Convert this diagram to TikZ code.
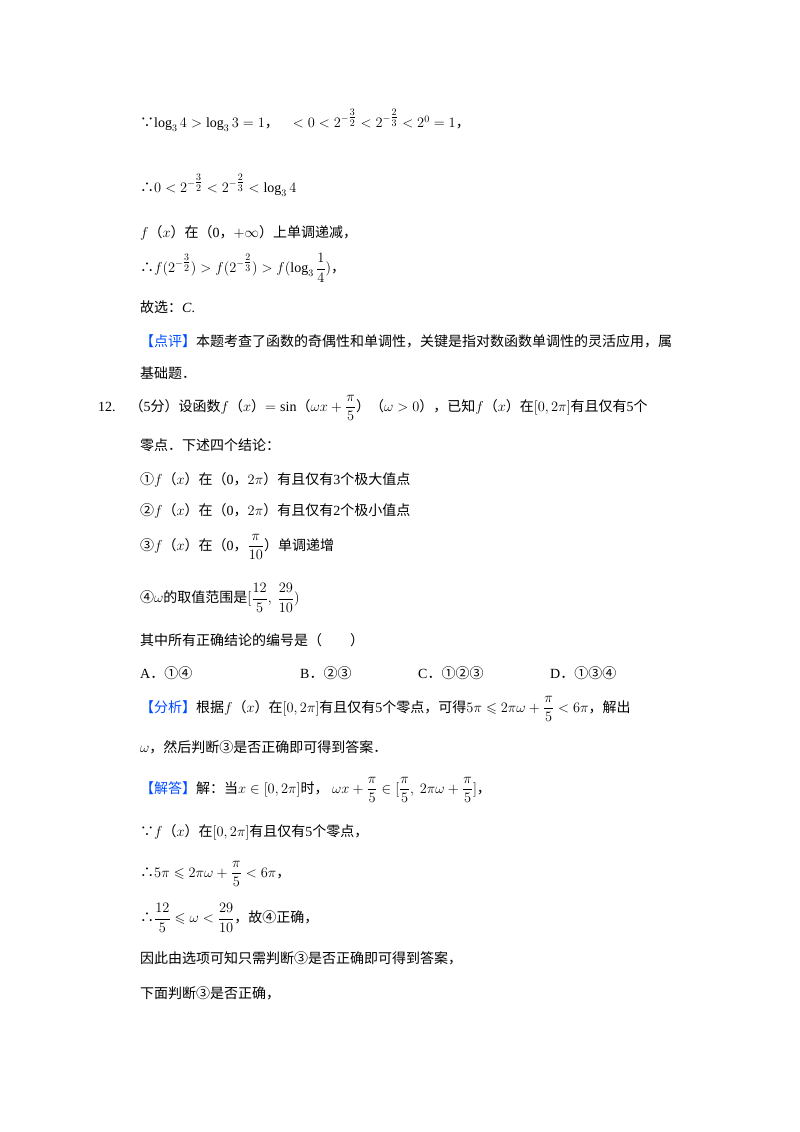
\documentclass[tikz,border=0pt]{standalone}
\usepackage{amssymb,amsmath}
\usepackage{fontspec}
\setmainfont{Liberation Serif}
\newfontfamily\cjk{Noto Sans CJK SC}
\newcommand{\zh}[1]{{\cjk #1}}
\newcommand{\ex}[2]{^{-\textstyle\frac{#1}{#2}}}
\begin{document}
\begin{tikzpicture}[x=1pt,y=-1pt,every node/.style={anchor=west,inner sep=0pt,font=\fontsize{14}{16}\selectfont}]
\useasboundingbox (0,0) rectangle (800,1132);
\node (l1) at (140,120) {\zh{∵}$\log_3 4>\log_3 3=1$\zh{，}\quad $<0<2\ex32<2\ex23<2^0=1$\zh{，}};
\node (l2) at (140,185) {\zh{∴}$0<2\ex32<2\ex23<\log_3 4$};
\node (l3) at (140,233) {$f$\zh{（}$x$\zh{）在（}0\zh{，}$+\infty$\zh{）上单调递减，}};
\node (l4) at (140,268) {\zh{∴}$f(2\ex32)>f(2\ex23)>f(\log_3\dfrac14)$\zh{，}};
\node (l5) at (140,307) {\zh{故选：}\textit{C}.};
\node (l6) at (140,341) {\zh{\color{blue!70!cyan}【点评】}\zh{本题考查了函数的奇偶性和单调性，关键是指对数函数单调性的灵活应用，属}};
\node (l7) at (140,373) {\zh{基础题．}};
\node (l8) at (98,408) {12.\quad\zh{（}5\zh{分）设函数}$f$\zh{（}$x$\zh{）}$=\sin$\zh{（}$\omega x+\dfrac{\pi}{5}$\zh{）（}$\omega>0$\zh{），已知}$f$\zh{（}$x$\zh{）在}$[0,2\pi]$\zh{有且仅有}5\zh{个}};
\node (l9) at (140,445) {\zh{零点．下述四个结论：}};
\node (l10) at (140,480) {\zh{①}$f$\zh{（}$x$\zh{）在（}0\zh{，}$2\pi$\zh{）有且仅有}3\zh{个极大值点}};
\node (l11) at (140,511) {\zh{②}$f$\zh{（}$x$\zh{）在（}0\zh{，}$2\pi$\zh{）有且仅有}2\zh{个极小值点}};
\node (l12) at (140,547) {\zh{③}$f$\zh{（}$x$\zh{）在（}0\zh{，}$\dfrac{\pi}{10}$\zh{）单调递增}};
\node (l13) at (140,598) {\zh{④}$\omega$\zh{的取值范围是}$[\dfrac{12}{5},\ \dfrac{29}{10})$};
\node (l14) at (140,640) {\zh{其中所有正确结论的编号是（\quad\quad）}};
\node (a) at (140,673) {A\zh{．①④}};
\node (b) at (300,673) {B\zh{．②③}};
\node (c) at (418,673) {C\zh{．①②③}};
\node (d) at (550,673) {D\zh{．①③④}};
\node (l16) at (140,709) {\zh{\color{blue!70!cyan}【分析】}\zh{根据}$f$\zh{（}$x$\zh{）在}$[0,2\pi]$\zh{有且仅有}5\zh{个零点，可得}$5\pi\leqslant2\pi\omega+\dfrac{\pi}{5}<6\pi$\zh{，解出}};
\node (l17) at (140,747) {$\omega$\zh{，然后判断③是否正确即可得到答案．}};
\node (l18) at (140,790) {\zh{\color{blue!70!cyan}【解答】}\zh{解：当}$x\in[0,2\pi]$\zh{时，}\ $\omega x+\dfrac{\pi}{5}\in[\dfrac{\pi}{5},\ 2\pi\omega+\dfrac{\pi}{5}]$\zh{，}};
\node (l19) at (140,832) {\zh{∵}$f$\zh{（}$x$\zh{）在}$[0,2\pi]$\zh{有且仅有}5\zh{个零点，}};
\node (l20) at (140,874) {\zh{∴}$5\pi\leqslant2\pi\omega+\dfrac{\pi}{5}<6\pi$\zh{，}};
\node (l21) at (140,918) {\zh{∴}$\dfrac{12}{5}\leqslant\omega<\dfrac{29}{10}$\zh{，故④正确，}};
\node (l22) at (140,958) {\zh{因此由选项可知只需判断③是否正确即可得到答案，}};
\node (l23) at (140,993) {\zh{下面判断③是否正确，}};
\end{tikzpicture}
\end{document}
